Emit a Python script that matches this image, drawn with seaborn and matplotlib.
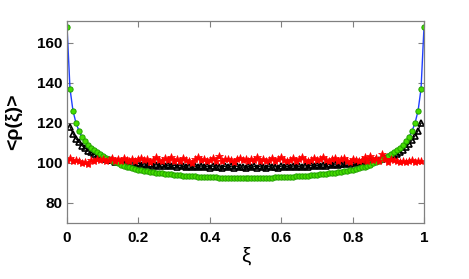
import numpy as np
import pandas as pd
import matplotlib
matplotlib.use("Agg")
import matplotlib.pyplot as plt
import seaborn as sns

# ---- data ----
xi_green = np.linspace(0, 1, 121)
green = [168, 137, 126, 120, 116, 113, 110.8, 109, 107.3, 106.2, 105.3, 104.4, 103.5, 102.6, 101.8,
         101.0, 100.3, 99.7, 99.1, 98.6, 98.1, 97.7, 97.3, 96.9, 96.6, 96.3, 96.0, 95.7, 95.5, 95.3,
         95.1, 94.9, 94.7, 94.5, 94.4, 94.2, 94.1, 93.9, 93.8, 93.6, 93.5, 93.4, 93.3, 93.2, 93.1,
         93.0, 92.9, 92.9, 92.8, 92.7, 92.7, 92.6, 92.6, 92.5, 92.5, 92.4, 92.4, 92.4, 92.3, 92.3,
         92.3,
         92.3, 92.3, 92.4, 92.4, 92.4, 92.5, 92.5, 92.6, 92.6, 92.7, 92.7, 92.8, 92.9, 92.9, 93.0,
         93.1, 93.2, 93.3, 93.4, 93.5, 93.6, 93.8, 93.9, 94.1, 94.2, 94.4, 94.5, 94.7, 94.9, 95.1,
         95.3, 95.5, 95.7, 96.0, 96.3, 96.6, 96.9, 97.3, 97.7, 98.1, 98.6, 99.1, 99.7, 100.3, 101.0,
         101.8, 102.6, 103.5, 104.4, 105.3, 106.2, 107.3, 109, 110.8, 113, 116, 120, 126, 137, 168]

xi_black = np.linspace(0, 1, 121)[1:120]
black = [118, 114.5, 112, 110.3, 108.6, 107.4, 106.1, 105.3, 104.6, 103.6, 103.2, 102.4, 102.1, 101.4,
         101.2, 100.6, 100.9, 100.2, 99.8, 100.4, 99.6, 99.9, 99.3, 99.7, 99.0, 99.5, 98.8, 99.4, 98.6,
         99.1, 98.5, 99.2, 98.3, 98.9, 98.2, 98.8, 98.0, 98.7, 98.3, 97.9, 98.6, 97.8, 98.4, 97.7, 98.5,
         97.9, 98.2, 97.6, 98.4, 97.8, 98.1, 97.5, 98.3, 97.7, 98.2, 97.6, 98.4, 97.8, 98.0, 97.5, 98.3,
         97.7, 98.2, 97.6, 98.4, 97.9, 97.5, 98.3, 97.8, 98.1, 97.6, 98.4, 97.9, 98.2, 97.7, 98.5, 98.0,
         98.3, 97.8, 98.6, 98.1, 98.7, 98.2, 98.8, 98.4, 99.0, 98.6, 99.2, 98.8, 99.4, 99.1, 99.6, 99.3,
         99.9, 99.6, 100.2, 100.0, 100.5, 100.3, 100.8, 100.6, 101.2, 101.0, 101.6, 101.5, 102.1, 102.3,
         102.9, 103.3, 104.0, 104.6, 105.5, 106.5, 107.8, 109.5, 111.3, 113.5, 116, 120]

xi_red = np.linspace(0, 1, 121)[0:120]
red = [101.5, 102.2, 100.8, 101.6, 101.0, 99.8, 100.6, 99.5, 101.4, 100.9, 102.0, 101.2, 101.8, 100.7,
       101.5, 102.6, 101.1, 101.9, 100.9, 102.3, 101.4, 101.0, 102.1, 100.8, 101.7, 102.5, 101.2, 101.9,
       100.6, 101.5, 102.8, 101.3, 100.9, 102.2, 101.6, 103.1, 101.0, 101.8, 100.7, 102.4, 101.5, 100.9,
       99.9, 101.7, 102.9, 101.2, 101.8, 100.8, 101.6, 102.3, 101.1, 103.3, 100.9, 101.7, 102.0, 101.3,
       100.6, 101.9, 102.6, 101.2, 101.7, 100.9, 102.1, 101.4, 103.0, 101.1, 101.8, 100.7, 101.5, 102.4,
       101.0, 101.9, 102.8, 101.3, 100.8, 101.6, 102.2, 101.1, 101.8, 102.9, 101.2, 100.7, 101.5, 102.3,
       101.4, 101.9, 103.1, 101.3, 100.9, 101.7, 102.5, 101.0, 101.8, 102.4, 101.1, 100.6, 102.0, 101.5,
       100.9, 101.6, 102.7, 100.8, 103.6, 101.4, 102.2, 100.9, 104.3, 101.7, 100.6, 102.1, 101.3, 100.8,
       100.2, 101.0, 100.4, 100.9, 101.2, 100.6, 101.0, 100.8]

x_ticks = [0, 0.2, 0.4, 0.6, 0.8, 1]
x_ticklabels = ["0", "0.2", "0.4", "0.6", "0.8", "1"]
y_ticks = [80, 100, 120, 140, 160]

df_g = pd.DataFrame({"xi": xi_green, "rho": green})
df_b = pd.DataFrame({"xi": xi_black, "rho": black})
df_r = pd.DataFrame({"xi": xi_red, "rho": red})

# ---- plot ----
sns.set_theme(style="white")
plt.rcParams["font.family"] = ["Liberation Sans", "DejaVu Sans"]
plt.rcParams["text.color"] = "black"
plt.rcParams["xtick.color"] = "black"
plt.rcParams["ytick.color"] = "black"
plt.rcParams["axes.labelcolor"] = "black"

fig = plt.figure(figsize=(4.69, 2.79), dpi=100)
ax = fig.add_axes([0.1429, 0.2007, 0.7612, 0.7258])

sns.lineplot(data=df_b, x="xi", y="rho", ax=ax, color="black", linewidth=0.8,
             marker="^", markersize=5, markerfacecolor="none", markeredgecolor="black",
             markeredgewidth=1.2, estimator=None, sort=False)
sns.lineplot(data=df_g, x="xi", y="rho", ax=ax, color="#1f3fff", linewidth=1.0,
             marker="o", markersize=3.8, markerfacecolor="#44dd00", markeredgecolor="#22a000",
             markeredgewidth=0.7, estimator=None, sort=False)
sns.lineplot(data=df_r, x="xi", y="rho", ax=ax, color="red", linewidth=0.8,
             marker="*", markersize=6, markerfacecolor="red", markeredgecolor="red",
             markeredgewidth=0.5, estimator=None, sort=False)

ax.set_xlim(0, 1)
ax.set_ylim(70, 171)
ax.set_xticks(x_ticks)
ax.set_xticklabels(x_ticklabels)
ax.set_yticks(y_ticks)
for lab in ax.get_xticklabels() + ax.get_yticklabels():
    lab.set_fontweight("bold")
    lab.set_fontsize(11)
    lab.set_color("black")
ax.tick_params(axis="both", direction="in", length=4, width=0.8, color="#808080",
               top=True, right=True, bottom=True, left=True)
ax.tick_params(axis="x", pad=6)
ax.tick_params(axis="y", pad=3)
for s in ax.spines.values():
    s.set_color("#808080")
    s.set_linewidth(0.9)

ax.set_xlabel("ξ", fontsize=15, labelpad=1)
ax.set_ylabel("<ρ(ξ)>", fontsize=14, fontweight="bold", labelpad=11)

fig.savefig("out.png", dpi=100)
